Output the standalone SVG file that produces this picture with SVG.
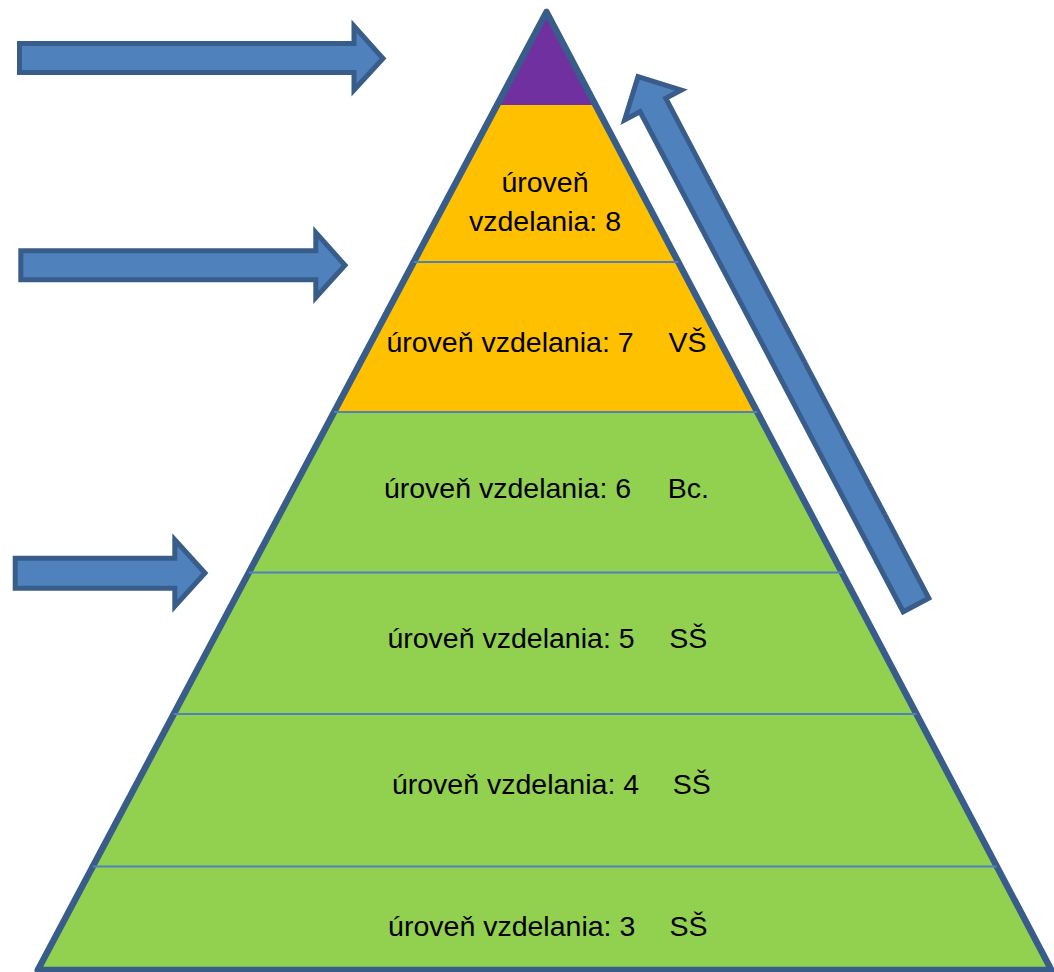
<svg xmlns="http://www.w3.org/2000/svg" width="1054" height="972" viewBox="0 0 1054 972">
<style>
.lbl{font-family:"Liberation Sans",Arial,sans-serif;font-size:28.5px;fill:#000;text-anchor:middle}
.arrow{fill:#4F81BD;stroke:#385D8A;stroke-width:5;stroke-linejoin:miter}
.sep{stroke:#4F81BD;stroke-width:2;fill:none}
</style>
<rect width="1054" height="972" fill="#fff"/>
<g id="level-top">
<polygon points="546.5,12 497.1,105 595.5,105" fill="#7030A0"/>
</g>
<g id="level-8">
<polygon points="497.1,105 595.5,105 678.3,262 413.8,262" fill="#FFC000"/>
<text class="lbl" x="545" y="192">úroveň</text>
<text class="lbl" x="545" y="231">vzdelania: 8</text>
</g>
<g id="level-7">
<polygon points="413.8,262 678.3,262 757.3,412 334.1,412" fill="#FFC000"/>
<text class="lbl" x="510" y="352">úroveň vzdelania: 7</text>
<text class="lbl" x="687.5" y="352">VŠ</text>
</g>
<g id="level-6">
<polygon points="334.1,412 757.3,412 841.9,572.5 248.9,572.5" fill="#92D050"/>
<text class="lbl" x="507.5" y="498">úroveň vzdelania: 6</text>
<text class="lbl" x="688.3" y="498">Bc.</text>
</g>
<g id="level-5">
<polygon points="248.9,572.5 841.9,572.5 916.5,714 173.7,714" fill="#92D050"/>
<text class="lbl" x="511" y="648">úroveň vzdelania: 5</text>
<text class="lbl" x="688.3" y="648">SŠ</text>
</g>
<g id="level-4">
<polygon points="173.7,714 916.5,714 996.8,866.5 92.8,866.5" fill="#92D050"/>
<text class="lbl" x="515.5" y="794">úroveň vzdelania: 4</text>
<text class="lbl" x="691.7" y="794">SŠ</text>
</g>
<g id="level-3">
<polygon points="92.8,866.5 996.8,866.5 1051.4,970 37.8,970" fill="#92D050"/>
<text class="lbl" x="511.7" y="936">úroveň vzdelania: 3</text>
<text class="lbl" x="688.5" y="936">SŠ</text>
</g>
<g id="pyramid-outline">
<polygon points="546.5,12 37.8,970 1051.4,970" fill="none" stroke="#385D8A" stroke-width="6.5" stroke-linejoin="round"/>
</g>
<g id="separators">
<line class="sep" x1="413.8" y1="262" x2="678.3" y2="262"/>
<line class="sep" x1="334.1" y1="412" x2="757.3" y2="412"/>
<line class="sep" x1="248.9" y1="572.5" x2="841.9" y2="572.5"/>
<line class="sep" x1="173.7" y1="714" x2="916.5" y2="714"/>
<line class="sep" x1="92.8" y1="866.5" x2="996.8" y2="866.5"/>
</g>
<g id="connectors">
<path class="arrow" d="M19.5,43.5 H354 V26 L383,58.5 L354,90 V72.5 H19.5 Z"/>
<path class="arrow" d="M20.8,250.8 H315.8 V232.5 L345,265.3 L315.8,297.5 V279.8 H20.8 Z"/>
<path class="arrow" d="M15.2,558.2 H174.8 V539.8 L205,573 L174.8,606.2 V588.2 H15.2 Z"/>
<path class="arrow" transform="translate(916,605) rotate(-117.75)" d="M0,-14.5 H565 V-32 L597,0 L565,32 V14.5 H0 Z"/>
</g>
</svg>
